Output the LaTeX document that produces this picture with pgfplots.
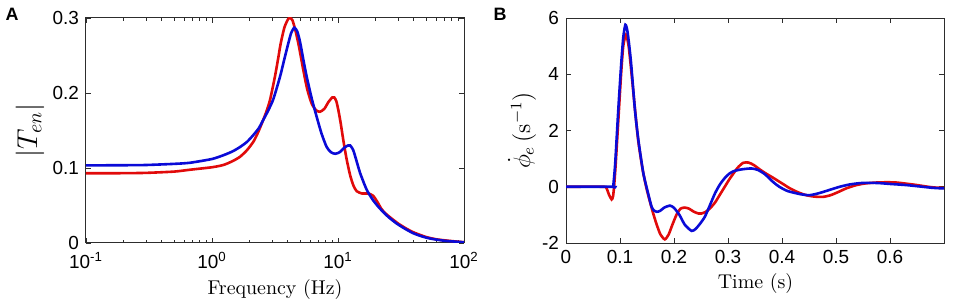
\documentclass[border=0pt]{standalone}
\usepackage{fontspec}
\usepackage{pgfplots}
\pgfplotsset{compat=1.18}
\newfontfamily\ticksf{Liberation Sans}
\definecolor{cred}{RGB}{225,10,10}
\definecolor{cblue}{RGB}{10,10,215}
\definecolor{axgray}{RGB}{45,45,45}
\pgfplotsset{
  myaxis/.style={
    scale only axis,
    width=189bp, height=112.5bp,
    axis line style={axgray, line width=0.5bp},
    tick style={axgray, line width=0.45bp},
    major tick length=2.6bp,
    minor tick length=1.5bp,
    tick align=inside,
    xtick pos=both, ytick pos=both,
    tick label style={font=\ticksf\fontsize{9.5}{10}\selectfont, text=black},
    /pgf/number format/assume math mode=true,
    clip=true,
  },
  red line/.style={cred, line width=1.3bp, smooth, tension=0.4, no marks},
  blue line/.style={cblue, line width=1.3bp, smooth, tension=0.4, no marks},
}
\begin{document}
\begin{tikzpicture}
\path[use as bounding box] (0,0) rectangle (478.5bp,154bp);
% Panel A
\begin{axis}[myaxis,
  at={(43bp,32.5bp)}, anchor=south west,
  xmode=log, xmin=0.1, xmax=100,
  ymin=0, ymax=0.3,
  xtick={0.1,1,10,100},
  xticklabels={10\textsuperscript{-1},10\textsuperscript{0},10\textsuperscript{1},10\textsuperscript{2}},
  minor xtick={0.2,0.3,0.4,0.5,0.6,0.7,0.8,0.9,2,3,4,5,6,7,8,9,20,30,40,50,60,70,80,90},
  ytick={0,0.1,0.2,0.3},
  yticklabel style={/pgf/number format/fixed, /pgf/number format/precision=1},
  xticklabel style={yshift=-1bp},
]
\addplot[red line] coordinates {
(0.1,0.093) (0.15,0.093) (0.2,0.0931) (0.3,0.0935) (0.5,0.0952) (0.67,0.0977)
(1.0,0.101) (1.23,0.104) (1.45,0.109) (1.67,0.115) (1.9,0.124) (2.13,0.135)
(2.3,0.146) (2.48,0.159) (2.7,0.175) (2.89,0.191) (3.16,0.222) (3.35,0.246)
(3.51,0.266) (3.75,0.287)
(4.0,0.298) (4.16,0.300) (4.35,0.297) (4.6,0.283) (4.9,0.262) (5.3,0.231)
(5.7,0.205) (6.18,0.186) (6.7,0.177) (7.2,0.175) (7.8,0.179) (8.4,0.188)
(9.0,0.194) (9.35,0.194) (9.7,0.189) (10.07,0.177) (10.5,0.160) (11.0,0.138)
(11.7,0.112) (12.5,0.090) (13.3,0.076) (14.1,0.069) (15.5,0.066) (17.4,0.066)
(19.0,0.063) (20.5,0.055) (22,0.046) (23.6,0.040) (26,0.034) (30,0.026)
(35,0.019) (40,0.014) (50,0.008) (60,0.005) (75,0.003) (100,0.001)
};
\addplot[blue line] coordinates {
(0.1,0.1035) (0.2,0.1037) (0.3,0.104) (0.5,0.1055) (0.67,0.107) (1.0,0.112)
(1.23,0.117) (1.45,0.122) (1.67,0.128) (1.9,0.135) (2.13,0.144) (2.35,0.153)
(2.55,0.164) (2.8,0.177) (3.07,0.192) (3.47,0.222) (3.75,0.245) (4.03,0.266)
(4.25,0.280) (4.5,0.287)
(4.75,0.282) (5.0,0.268) (5.3,0.245) (5.64,0.222) (6.2,0.192) (6.78,0.168)
(7.4,0.146) (8.13,0.128) (8.8,0.121) (9.5,0.119) (10.3,0.121) (11.2,0.127)
(12.0,0.130) (12.5,0.130) (13.2,0.124) (14.0,0.110) (15.0,0.093) (16.9,0.071)
(19.0,0.057) (21.5,0.046) (25,0.035) (29.2,0.026) (34,0.019) (39.6,0.013)
(46,0.009) (53.7,0.006) (70,0.003) (100,0.001)
};
\end{axis}
% Panel B
\begin{axis}[myaxis,
  at={(283bp,32.5bp)}, anchor=south west,
  xmin=0, xmax=0.7, ymin=-2, ymax=6,
  xtick={0,0.1,0.2,0.3,0.4,0.5,0.6},
  ytick={-2,0,2,4,6},
  xticklabel style={/pgf/number format/fixed, /pgf/number format/precision=1},
]
\addplot[red line] coordinates {
(0,0) (0.07,0) (0.075,-0.05) (0.08,-0.3) (0.0845,-0.45) (0.087,-0.35) (0.089,0)
(0.092,0.8) (0.097,2.4) (0.102,4.0) (0.106,5.0) (0.111,5.4) (0.116,5.0)
(0.122,3.9) (0.128,2.7) (0.134,1.6) (0.142,0.6) (0.149,-0.05) (0.155,-0.5)
(0.1615,-0.95) (0.168,-1.35) (0.175,-1.7) (0.183,-1.87) (0.19,-1.7) (0.197,-1.35)
(0.205,-0.98) (0.212,-0.78) (0.220,-0.74) (0.228,-0.78) (0.236,-0.88) (0.245,-0.95)
(0.251,-0.95) (0.258,-0.90) (0.266,-0.78) (0.276,-0.56) (0.285,-0.28) (0.294,0.0)
(0.302,0.25) (0.31,0.47) (0.318,0.68) (0.328,0.85) (0.338,0.86) (0.348,0.77)
(0.36,0.6) (0.372,0.45) (0.3835,0.32) (0.395,0.18) (0.405,0.06) (0.414,-0.05)
(0.43,-0.2) (0.445,-0.3) (0.46,-0.35) (0.476,-0.36) (0.49,-0.3) (0.505,-0.18)
(0.52,-0.05) (0.538,0.06) (0.555,0.12) (0.575,0.15) (0.595,0.16) (0.612,0.15)
(0.63,0.11) (0.65,0.06) (0.67,0.0) (0.685,-0.03) (0.7,-0.04)
};
\addplot[blue line] coordinates {
(0,0) (0.087,0) (0.0875,0.02) (0.091,0.8) (0.0968,2.73) (0.102,4.3) (0.106,5.3)
(0.110,5.76) (0.114,5.5) (0.12,4.5) (0.1277,2.73) (0.134,1.66) (0.143,0.5)
(0.149,0.0) (0.1535,-0.35) (0.1585,-0.71) (0.163,-0.85) (0.168,-0.89) (0.174,-0.86)
(0.182,-0.74) (0.1924,-0.67) (0.2,-0.75) (0.21,-1.0) (0.22,-1.35) (0.2326,-1.57)
(0.24,-1.50) (0.248,-1.32) (0.257,-1.07) (0.266,-0.68) (0.276,-0.23) (0.285,0.08)
(0.294,0.31) (0.302,0.46) (0.31,0.55) (0.32,0.60) (0.33,0.63) (0.3435,0.65)
(0.355,0.60) (0.368,0.45) (0.3835,0.17) (0.395,0.0) (0.41,-0.15) (0.433,-0.26)
(0.451,-0.30) (0.47,-0.22) (0.49,-0.1) (0.507,0.0) (0.525,0.08) (0.545,0.13)
(0.562,0.14) (0.58,0.13) (0.6,0.10) (0.63,0.06) (0.66,0.0) (0.68,-0.04) (0.7,-0.06)
};
\end{axis}
% labels
\node[rotate=90] at (15bp,88.75bp) {\Large$\left|T_{en}\right|$};
\node at (137.5bp,9bp) {Frequency (Hz)};
\node[rotate=90] at (261bp,88.75bp) {\large$\dot{\phi}_e\,(\mathrm{s}^{-1})$};
\node at (377.75bp,12bp) {Time (s)};
\node[font=\ticksf\bfseries\fontsize{9}{10}\selectfont] at (6bp,147bp) {A};
\node[font=\ticksf\bfseries\fontsize{9}{10}\selectfont] at (250bp,147bp) {B};
\end{tikzpicture}
\end{document}
